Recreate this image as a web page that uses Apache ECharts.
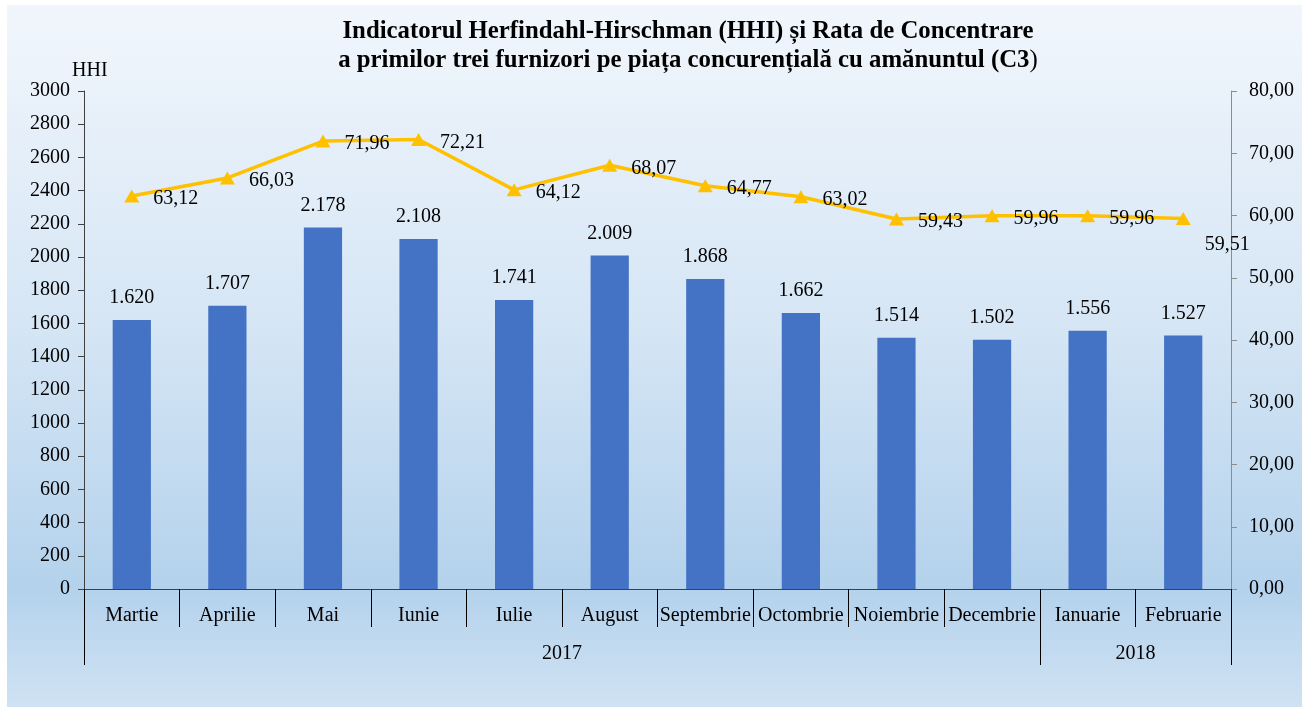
<!DOCTYPE html>
<html><head><meta charset="utf-8">
<script src="https://cdn.jsdelivr.net/npm/echarts@6/dist/echarts.min.js"></script>
<style>html,body{margin:0;padding:0;background:#fff}#c{width:1311px;height:707px}</style>
</head><body><div id="c"></div>
<script>
const categories = ['Martie','Aprilie','Mai','Iunie','Iulie','August','Septembrie','Octombrie','Noiembrie','Decembrie','Ianuarie','Februarie'];
const hhiValues = [1620,1707,2178,2108,1741,2009,1868,1662,1514,1502,1556,1527];
const c3Values = [63.12,66.03,71.96,72.21,64.12,68.07,64.77,63.02,59.43,59.96,59.96,59.51];
const yearLabels = ['2017','2018'];
const yearBounds = [0,10,12];
const yearCenters = [5,11];

const FONT = '"Liberation Serif","Times New Roman",serif';
const fmtHHI = v => { const s = String(Math.round(v)); return s.length > 3 ? s.slice(0, s.length-3) + '.' + s.slice(-3) : s; };
const fmtPct = v => v.toFixed(2).replace('.', ',');

const chart = echarts.init(document.getElementById('c'), null, {renderer:'canvas'});
chart.setOption({
  animation:false,
  textStyle:{fontFamily:FONT},
  graphic:[{type:'rect', z:-10, silent:true, shape:{x:7,y:5,width:1295,height:702},
    style:{fill:new echarts.graphic.LinearGradient(0,0,0,1,[
      {offset:0,color:'#f1f6fc'},{offset:0.45,color:'#d6e6f5'},{offset:0.83,color:'#b4d2ec'},{offset:1,color:'#cfe2f3'}])}}],
  title:{
    left:683, top:12, textAlign:'center',
    text:'{b|Indicatorul Herfindahl-Hirschman (HHI) și Rata de Concentrare}\n{b|a primilor trei furnizori pe piața concurențială cu amănuntul (C3}{n|)}',
    textStyle:{rich:{
      b:{fontFamily:FONT,fontWeight:'bold',fontSize:24.8,color:'#000',lineHeight:29},
      n:{fontFamily:FONT,fontWeight:'normal',fontSize:24.8,color:'#000',lineHeight:29}}}
  },
  grid:{left:84,right:80,top:91,bottom:118},
  xAxis:[{
    type:'category', data:categories, position:'bottom',
    axisLine:{lineStyle:{color:'#404040',width:1}},
    axisTick:{show:true,interval:0,length:38,lineStyle:{color:'#000'}},
    axisLabel:{interval:0,color:'#000',fontSize:20,fontFamily:FONT,margin:17}
  },{
    type:'value', min:0, max:12, position:'bottom',
    axisLine:{show:false}, splitLine:{show:false},
    axisTick:{show:true,customValues:yearBounds,length:76,lineStyle:{color:'#000'}},
    axisLabel:{customValues:yearCenters,color:'#000',fontSize:20,fontFamily:FONT,margin:55,
      formatter:v => yearLabels[yearCenters.indexOf(v)]}
  }],
  yAxis:[{
    type:'value', min:0, max:3000, interval:200, name:'HHI',
    nameGap:-4, nameTextStyle:{color:'#000',fontSize:20,fontFamily:FONT,align:'left',padding:[0,0,0,-12]},
    axisLine:{show:true,lineStyle:{color:'#404040'}},
    axisTick:{show:true,length:6,lineStyle:{color:'#404040'}},
    splitLine:{show:false},
    axisLabel:{color:'#000',fontSize:20,fontFamily:FONT,margin:14,formatter:v=>String(v)}
  },{
    type:'value', min:0, max:80, interval:10, position:'right',
    axisLine:{show:true,lineStyle:{color:'#8c8c8c'}},
    axisTick:{show:true,length:6,lineStyle:{color:'#8c8c8c'}},
    splitLine:{show:false},
    axisLabel:{color:'#000',fontSize:20,fontFamily:FONT,margin:18,formatter:fmtPct}
  }],
  series:[{
    type:'bar', data:hhiValues, barWidth:'40%', xAxisIndex:0, yAxisIndex:0,
    itemStyle:{color:'#4472c4'},
    label:{show:true,position:'top',distance:12,color:'#000',fontSize:20,fontFamily:FONT,formatter:p=>fmtHHI(p.value)}
  },{
    type:'line', data:c3Values.map((v,i)=> i===c3Values.length-1 ? {value:v,label:{offset:[0,26]}} : v),
    xAxisIndex:0, yAxisIndex:1,
    lineStyle:{color:'#ffc000',width:3.5}, itemStyle:{color:'#ffc000'},
    symbol:'triangle', symbolSize:[15,13],
    label:{show:true,position:'right',distance:14,offset:[0,3],color:'#000',fontSize:20,fontFamily:FONT,formatter:p=>fmtPct(p.value)}
  }]
});
</script></body></html>
